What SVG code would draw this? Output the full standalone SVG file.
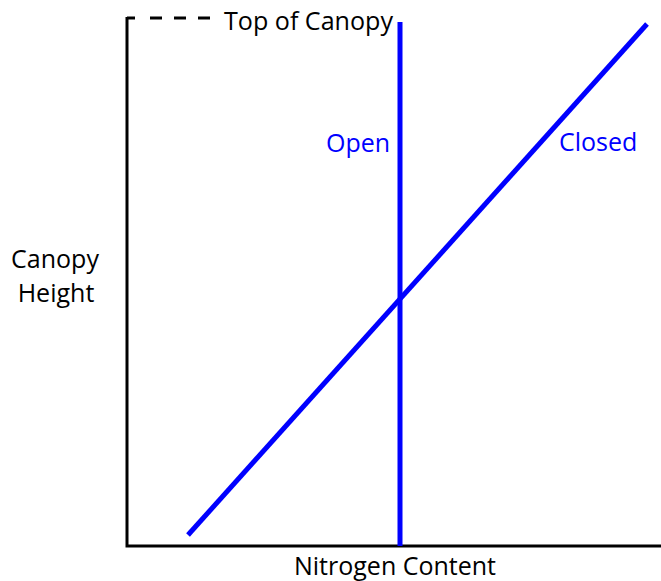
<svg xmlns="http://www.w3.org/2000/svg" width="661" height="581" viewBox="0 0 661 581">
<style>
.axis{stroke:#000;stroke-width:3;fill:none}
.blue{stroke:#0000ff;stroke-width:5;fill:none}
.lbl{font-family:"Open Sans","Liberation Sans",sans-serif;font-size:25px;fill:#000}
.blbl{font-family:"Open Sans","Liberation Sans",sans-serif;font-size:25px;fill:#0000ff}
</style>
<rect width="661" height="581" fill="#fff"/>
<g id="axes">
<polyline class="axis" points="127,17 127,546 661,546"/>
<line class="axis" x1="127" y1="18" x2="214" y2="18" stroke-dasharray="8,15,12,12,12,12,12"/>
</g>
<g id="connectors">
<line id="open-line" class="blue" x1="400" y1="22" x2="400" y2="546"/>
<line id="closed-line" class="blue" x1="188" y1="535" x2="647" y2="24"/>
</g>
<g id="labels">
<text class="lbl" x="224" y="30" textLength="169" lengthAdjust="spacingAndGlyphs">Top of Canopy</text>
<text class="lbl" x="55" y="268" text-anchor="middle">Canopy</text>
<text class="lbl" x="56" y="302" text-anchor="middle">Height</text>
<text class="lbl" x="395" y="575" text-anchor="middle">Nitrogen Content</text>
<text class="blbl" x="326" y="152">Open</text>
<text class="blbl" x="559" y="151">Closed</text>
</g>
</svg>
